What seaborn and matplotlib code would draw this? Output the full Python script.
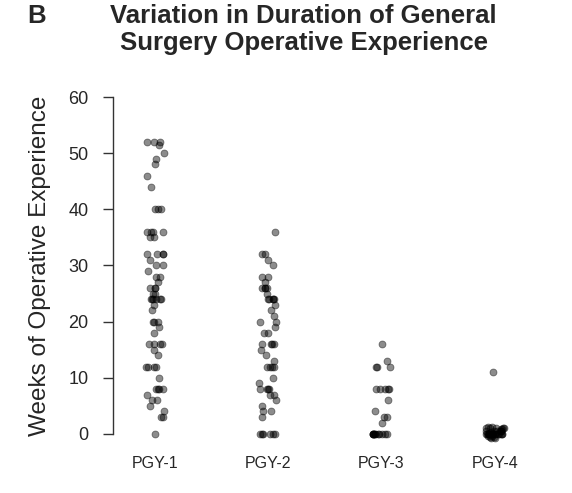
import numpy as np
import pandas as pd
import matplotlib
matplotlib.use("Agg")
import matplotlib.pyplot as plt
import seaborn as sns

# weeks of operative experience per resident
pgy1 = [52, 52, 52, 51.5, 50, 49, 48, 46, 44, 40, 40, 40, 36, 36, 36, 36, 35, 35,
        32, 32, 32, 32, 31, 30, 30, 29, 28, 28, 27, 26, 26, 26, 25, 25,
        24, 24, 24, 24, 24, 24, 23, 22, 20, 20, 20, 19, 18, 16, 16, 16, 16, 15,
        14, 12, 12, 12, 12, 10, 8, 8, 8, 8, 7, 6, 6, 5, 4, 3, 3, 0]
pgy2 = [36, 32, 32, 31, 30, 28, 28, 27, 26, 26, 26, 26, 25, 24, 24, 24, 24, 24,
        23, 22, 21, 20, 20, 19, 18, 18, 16, 16, 16, 16, 15, 14, 13, 12, 12, 12, 12,
        10, 9, 8, 8, 8, 8, 7, 7, 6, 5, 4, 4, 3, 0, 0, 0, 0, 0, 0]
pgy3 = [16, 13, 12, 12, 12, 8, 8, 8, 8, 8, 6, 4, 3, 3, 2,
        0, 0, 0, 0, 0, 0, 0, 0, 0, 0, 0, 0]
pgy4 = [11, 1.2, 1.2, 1.1, 1, 1, 1, 1, 0.8, 0.8, 0.5, 0.5, 0.5, 0.5, 0.5, 0.5, 0.3,
        0, 0, 0, 0, 0, 0, 0, 0, 0, 0, 0, 0, 0, 0, 0, 0, 0, 0, 0, 0,
        -0.4, -0.4, -0.6, -0.6, -0.8, -0.8]
groups = ["PGY-1", "PGY-2", "PGY-3", "PGY-4"]

df = pd.DataFrame({
    "group": np.repeat(groups, [len(pgy1), len(pgy2), len(pgy3), len(pgy4)]),
    "weeks": pgy1 + pgy2 + pgy3 + pgy4,
})

sns.set_style("white")
plt.rcParams["font.family"] = ["Liberation Sans", "DejaVu Sans"]

np.random.seed(7)
fig = plt.figure(figsize=(5.72, 4.93), dpi=100)
ax = fig.add_axes([0.198, 0.097, 0.746, 0.729])

sns.stripplot(data=df, x="group", y="weeks", order=groups, jitter=0.08,
              color="black", alpha=0.45, size=5, linewidth=0.6,
              edgecolor="black", ax=ax)

ax.set_xlim(-0.37, 3.4)
ax.set_ylim(-2, 62)
ax.set_yticks([0, 10, 20, 30, 40, 50, 60])
sns.despine(ax=ax, bottom=True, offset=0)
ax.spines["left"].set_bounds(0, 60)
ax.spines["left"].set_color("#333333")
ax.spines["left"].set_linewidth(1)
ax.tick_params(axis="y", length=7, width=1, color="#333333", labelsize=13,
               pad=11, left=True)
ax.tick_params(axis="x", length=0, labelsize=11.5, pad=8)
ax.set_xlabel("")
ax.set_ylabel("Weeks of Operative Experience", fontsize=17.5, labelpad=12)

fig.text(0.048, 0.953, "B", fontsize=18.5, fontweight="bold", ha="left", va="baseline")
fig.text(0.531, 0.953, "Variation in Duration of General", fontsize=18.5,
         fontweight="bold", ha="center", va="baseline")
fig.text(0.531, 0.898, "Surgery Operative Experience", fontsize=18.5,
         fontweight="bold", ha="center", va="baseline")

fig.savefig("out.png", dpi=100)
